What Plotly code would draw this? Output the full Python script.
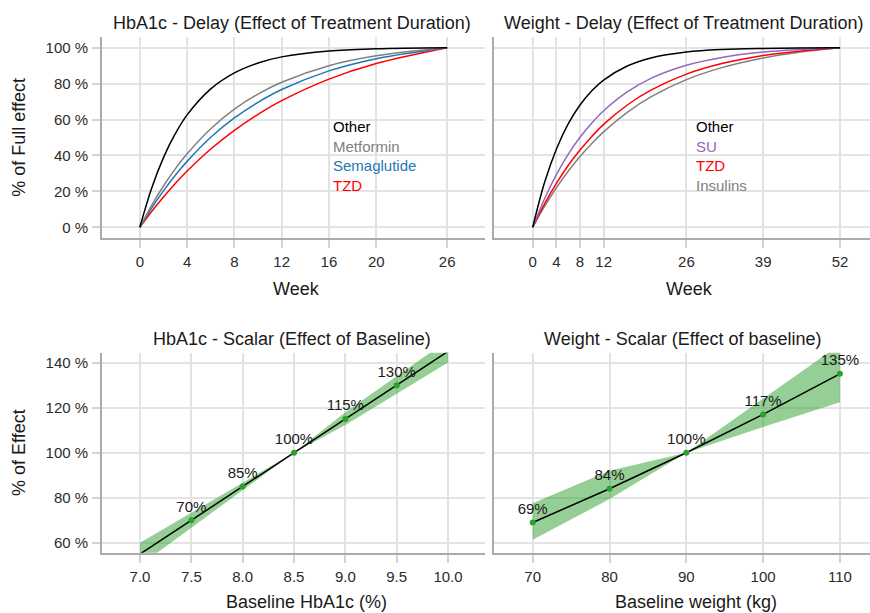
import plotly.graph_objects as go

W, H = 870, 613
FONT = "Liberation Sans, Arial, Helvetica, sans-serif"

# ---------------- data ----------------
hba1c_weeks = [0, 1, 2, 3, 4, 6, 8, 10, 12, 16, 20, 26]
hba1c_other = [0, 21.8, 38.8, 52.1, 62.6, 77.1, 86.0, 91.5, 94.9, 98.2, 99.4, 100]
hba1c_metformin = [0, 12.2, 23.0, 32.5, 40.9, 54.9, 65.8, 74.2, 80.8, 90.0, 95.5, 100]
hba1c_semaglutide = [0, 10.7, 20.3, 29.0, 36.7, 50.1, 60.9, 69.6, 76.7, 87.1, 93.9, 100]
hba1c_tzd = [0, 8.8, 16.9, 24.4, 31.3, 43.6, 54.0, 62.9, 70.5, 82.5, 91.2, 100]

weight_weeks = [0, 2, 4, 6, 8, 10, 12, 16, 20, 26, 32, 39, 45, 52]
weight_other = [0, 24.9, 43.5, 57.6, 68.1, 76.0, 82.0, 89.8, 94.3, 97.6, 99.0, 99.6, 99.8, 100]
weight_su = [0, 15.9, 29.3, 40.6, 50.1, 58.1, 64.9, 75.4, 82.9, 90.2, 94.6, 97.6, 99.0, 100]
weight_tzd = [0, 13.0, 24.4, 34.4, 43.0, 50.6, 57.3, 68.1, 76.4, 85.3, 91.2, 95.7, 98.1, 100]
weight_insulins = [0, 11.6, 22.0, 31.2, 39.4, 46.7, 53.1, 64.0, 72.6, 82.2, 88.9, 94.3, 97.5, 100]

hba1c_base = [7.0, 7.5, 8.0, 8.5, 9.0, 9.5, 10.0]
hba1c_scalar = [55, 70, 85, 100, 115, 130, 145]
hba1c_hi = [60, 73.3, 86.8, 100, 118, 134, 150]
hba1c_lo = [50, 66.7, 83.2, 100, 112.3, 126, 140]
hba1c_pts_x = [7.5, 8.0, 8.5, 9.0, 9.5]
hba1c_pts_y = [70, 85, 100, 115, 130]

weight_base = [70, 80, 90, 100, 110]
weight_scalar = [69, 84, 100, 117, 135]
weight_hi = [77.6, 92, 100, 123.8, 148]
weight_lo = [61.3, 79.4, 100, 111.4, 122.4]

delay_ticks_hba1c = [0, 4, 8, 12, 16, 20, 26]
delay_ticks_weight = [0, 4, 8, 12, 26, 39, 52]
pct_ticks_top = [0, 20, 40, 60, 80, 100]
pct_ticks_bottom = [60, 80, 100, 120, 140]
hba1c_ticks = [7.0, 7.5, 8.0, 8.5, 9.0, 9.5, 10.0]
weight_ticks = [70, 80, 90, 100, 110]

hba1c_groups = ["Other", "Metformin", "Semaglutide", "TZD"]
hba1c_colors = ["#000000", "#808080", "#1f77b4", "#ff0000"]
weight_groups = ["Other", "SU", "TZD", "Insulins"]
weight_colors = ["#000000", "#9467bd", "#ff0000", "#808080"]

# ---------------- figure ----------------
fig = go.Figure()

def px_x(p):
    return p / W

def px_y(p):
    return 1 - p / H

# top-left curves (drawn so that black ends on top)
tl = []
for name, ys, col in zip(hba1c_groups,
                         [hba1c_other, hba1c_metformin, hba1c_semaglutide, hba1c_tzd],
                         hba1c_colors):
    tl.append(go.Scatter(x=hba1c_weeks, y=ys, mode="lines", name=name,
                         line=dict(color=col, width=1.5, shape="spline"),
                         xaxis="x", yaxis="y"))
for t in reversed(tl):
    fig.add_trace(t)

# top-right curves
wt = []
for name, ys, col in zip(weight_groups,
                         [weight_other, weight_su, weight_tzd, weight_insulins],
                         weight_colors):
    wt.append(go.Scatter(x=weight_weeks, y=ys, mode="lines", name=name,
                         line=dict(color=col, width=1.5, shape="spline"),
                         xaxis="x2", yaxis="y2"))
for t in reversed(wt):
    fig.add_trace(t)

BAND = "rgba(44,160,44,0.5)"
PT = "#2ca02c"

def scalar(xs, ys, lo, hi, px, py, xa, ya):
    fig.add_trace(go.Scatter(x=xs, y=lo, mode="lines", line=dict(width=0),
                             hoverinfo="skip", xaxis=xa, yaxis=ya))
    fig.add_trace(go.Scatter(x=xs, y=hi, mode="lines", line=dict(width=0),
                             fill="tonexty", fillcolor=BAND,
                             hoverinfo="skip", xaxis=xa, yaxis=ya))
    fig.add_trace(go.Scatter(x=xs, y=ys, mode="lines",
                             line=dict(color="#000000", width=1.5),
                             xaxis=xa, yaxis=ya))
    fig.add_trace(go.Scatter(x=px, y=py, mode="markers+text",
                             marker=dict(color=PT, size=6),
                             text=[f"{v:g}%" for v in py],
                             textposition="top center",
                             textfont=dict(size=15, color="#1a1a1a", family=FONT),
                             cliponaxis=False,
                             xaxis=xa, yaxis=ya))

scalar(hba1c_base, hba1c_scalar, hba1c_lo, hba1c_hi, hba1c_pts_x, hba1c_pts_y, "x3", "y3")
scalar(weight_base, weight_scalar, weight_lo, weight_hi, weight_base, weight_scalar, "x4", "y4")

# ---------------- layout ----------------
top_dom = [px_y(237.7), px_y(37.3)]
bot_dom = [px_y(552.7), px_y(352.7)]
left_dom = [px_x(102), px_x(485)]
right_dom = [px_x(494.3), 1.0]

axis_common = dict(
    showgrid=True, gridcolor="#e3e3e3", gridwidth=1.5,
    zeroline=False, showline=True, linecolor="#ababab", linewidth=1.8,
    ticks="outside", ticklen=8, tickcolor="#d4d4d4", tickwidth=1.5,
    tickfont=dict(size=15, color="#2b2b2b", family=FONT),
)

def xax(dom, anchor, rng, tv, tt):
    d = dict(axis_common)
    d.update(domain=dom, anchor=anchor, range=rng, tickvals=tv, ticktext=tt,
             ticklabelstandoff=1)
    return d

def yax(dom, anchor, rng, tv, tt, show):
    d = dict(axis_common)
    d.update(domain=dom, anchor=anchor, range=rng, tickvals=tv, ticktext=tt,
             ticklabelstandoff=1)
    if not show:
        d.update(showticklabels=False, ticks="")
    return d

fig.update_layout(
    width=W, height=H, autosize=False,
    margin=dict(l=0, r=0, t=0, b=0),
    paper_bgcolor="white", plot_bgcolor="white",
    showlegend=False,
    font=dict(family=FONT, color="#1a1a1a"),
    xaxis=xax(left_dom, "y", [-3.2, 29.2], delay_ticks_hba1c,
              [str(v) for v in delay_ticks_hba1c]),
    yaxis=yax(top_dom, "x", [-5.8, 105.8], pct_ticks_top,
              [f"{v} %" for v in pct_ticks_top], True),
    xaxis2=xax(right_dom, "y2", [-6.5, -6.5 + (870 - 494.3) / 5.91], delay_ticks_weight,
               [str(v) for v in delay_ticks_weight]),
    yaxis2=yax(top_dom, "x2", [-5.8, 105.8], pct_ticks_top,
               [f"{v} %" for v in pct_ticks_top], False),
    xaxis3=xax(left_dom, "y3", [6.63, 10.36], hba1c_ticks,
               [f"{v:.1f}" for v in hba1c_ticks]),
    yaxis3=yax(bot_dom, "x3", [55.6, 144.4], pct_ticks_bottom,
               [f"{v} %" for v in pct_ticks_bottom], True),
    xaxis4=xax(right_dom, "y4", [65, 65 + (870 - 494.3) / 7.68], weight_ticks,
               [str(v) for v in weight_ticks]),
    yaxis4=yax(bot_dom, "x4", [55.6, 144.4], pct_ticks_bottom,
               [f"{v} %" for v in pct_ticks_bottom], False),
)

ann = []
def text(x, y, s, size=18, angle=0, color="#1a1a1a", xanchor="center", align="center"):
    ann.append(dict(x=px_x(x), y=px_y(y), xref="paper", yref="paper", text=s,
                    showarrow=False, xanchor=xanchor, yanchor="middle", align=align,
                    textangle=angle, font=dict(size=size, color=color, family=FONT)))

# panel titles
text(292, 23, "HbA1c - Delay (Effect of Treatment Duration)")
text(683, 23, "Weight - Delay (Effect of Treatment Duration)")
text(291.7, 339, "HbA1c - Scalar (Effect of Baseline)")
text(682.5, 339, "Weight - Scalar (Effect of baseline)")
# axis titles
text(296, 289, "Week")
text(689, 289, "Week")
text(306, 602, "Baseline HbA1c (%)")
text(696, 602, "Baseline weight (kg)")
text(18.3, 137.5, "% of Full effect", angle=-90)
text(18.3, 452.7, "% of Effect", angle=-90)

# in-plot legends (one text block each, coloured lines)
def legend_block(groups, colors):
    return "<br>".join(f"<span style='color:{c}'>{g}</span>" for g, c in zip(groups, colors))

text(331, 156, legend_block(hba1c_groups, hba1c_colors), size=15, xanchor="left", align="left")
text(694.3, 156, legend_block(weight_groups, weight_colors), size=15, xanchor="left", align="left")

fig.update_layout(annotations=ann)

fig.write_html("out.html")
